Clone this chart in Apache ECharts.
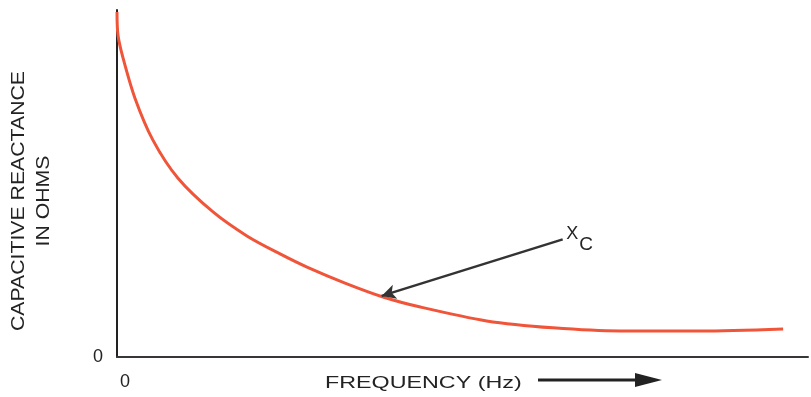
<!DOCTYPE html>
<html>
<head>
<meta charset="utf-8">
<script src="https://cdn.jsdelivr.net/npm/echarts@6/dist/echarts.min.js"></script>
<style>
  html, body { margin: 0; padding: 0; background: #fff; }
  #chart { width: 811px; height: 397px; }
</style>
</head>
<body>
<div id="chart"></div>
<script>
// Reactance curve: X_C falls steeply at low frequency, then levels off.
const frequency = [0, 0.14, 0.87, 2.6, 5.2, 8.8, 13.9, 18.8, 23.6, 27.5, 33.0, 38.5, 43.9, 53.5, 63.1, 72.8, 84.4, 96.4];
const reactance = [99.4, 92.8, 86.2, 74.6, 62.5, 51.6, 41.8, 34.9, 29.7, 25.9, 21.3, 17.3, 14.4, 10.4, 8.4, 7.5, 7.5, 8.1];

// Pointer from the X_C label down onto the curve
const pointerFrom = [64.5, 33.9];
const pointerTo = [38.3, 17.6];

const yTitle = ['CAPACITIVE REACTANCE', 'IN OHMS'];
const xTitle = 'FREQUENCY (Hz)';
const axisTicks = [0, 100];

const FONT = "'Liberation Sans', Arial, sans-serif";
const INK = '#232323';

const chart = echarts.init(document.getElementById('chart'));

chart.setOption({
  animation: false,
  backgroundColor: '#ffffff',
  grid: { left: 117, right: 3, top: 10, bottom: 40 },
  xAxis: {
    type: 'value',
    min: axisTicks[0], max: axisTicks[1], interval: 100,
    axisLine: { show: true, onZero: false, lineStyle: { color: '#3a3538', width: 2 } },
    axisTick: { show: false },
    splitLine: { show: false },
    axisLabel: {
      showMaxLabel: false,
      formatter: v => (v === 0 ? '0' : ''),
      color: INK, fontFamily: FONT, fontSize: 18,
      align: 'left', padding: [0, 0, 0, 3], margin: 16
    }
  },
  yAxis: {
    type: 'value',
    min: axisTicks[0], max: axisTicks[1], interval: 100,
    axisLine: { show: true, onZero: false, lineStyle: { color: '#222', width: 2 } },
    axisTick: { show: false },
    splitLine: { show: false },
    axisLabel: {
      showMaxLabel: false,
      formatter: v => (v === 0 ? '0' : ''),
      color: INK, fontFamily: FONT, fontSize: 18, margin: 14,
      verticalAlign: 'middle', padding: [0, 0, 4, 0]
    }
  },
  series: [{
    type: 'line',
    data: frequency.map((f, i) => [f, reactance[i]]),
    smooth: 0.3,
    showSymbol: false,
    lineStyle: { color: '#f0553a', width: 3 },
    markLine: {
      silent: true,
      symbol: ['none', 'arrow'],
      symbolSize: [11, 14],
      label: { show: false },
      lineStyle: { color: '#333', width: 2.5, type: 'solid' },
      data: [[{ coord: pointerFrom }, { coord: pointerTo }]]
    },
    markPoint: {
      silent: true,
      symbol: 'circle',
      symbolSize: 1,
      itemStyle: { color: 'rgba(0,0,0,0)' },
      label: {
        show: true,
        position: 'right',
        distance: 3,
        formatter: '{x|X}{c|C}',
        rich: {
          x: { fontFamily: FONT, fontSize: 18, color: INK, padding: [0, 0, 11, 0] },
          c: { fontFamily: FONT, fontSize: 19, color: INK, padding: [10, 0, 0, 1] }
        }
      },
      data: [{ coord: pointerFrom }]
    }
  }],
  graphic: [
    {
      type: 'text',
      x: 32, y: 201, rotation: Math.PI / 2, scaleX: 1.18,
      style: {
        text: yTitle.join('\n'),
        fill: INK, font: '18px ' + FONT,
        align: 'center', verticalAlign: 'middle', lineHeight: 25
      }
    },
    {
      type: 'text',
      x: 325, y: 383, scaleX: 1.37,
      style: {
        text: xTitle, fill: INK, font: '17px ' + FONT,
        align: 'left', verticalAlign: 'middle'
      }
    },
    {
      type: 'line',
      shape: { x1: 538, y1: 380, x2: 645, y2: 380 },
      style: { stroke: '#222', lineWidth: 3 }
    },
    {
      type: 'polygon',
      shape: { points: [[635, 373], [662, 380], [635, 387]] },
      style: { fill: '#222' }
    }
  ]
});
</script>
</body>
</html>
